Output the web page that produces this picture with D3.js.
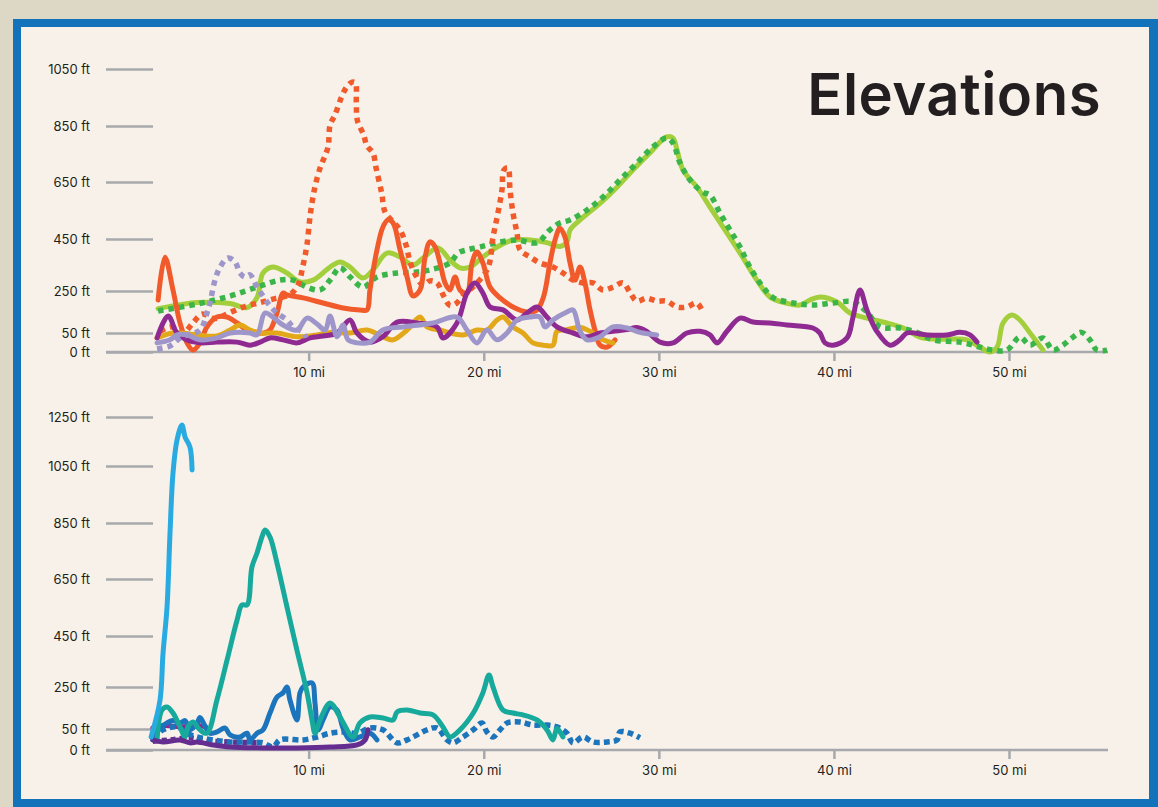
<!DOCTYPE html>
<html><head><meta charset="utf-8">
<script src="https://cdn.jsdelivr.net/npm/d3@7"></script>
<style>
html,body{margin:0;padding:0;background:#DCD8C5;}
svg{display:block;}
</style></head><body><svg id="c" width="1158" height="807"></svg>
<script>
// ---------- DATA (miles, feet) ----------
const xTicks = [10, 20, 30, 40, 50];
const yTicksTop = [0, 50, 250, 450, 650, 850, 1050];
const yTicksBottom = [0, 50, 250, 450, 650, 850, 1050, 1250];
const titleText = "Elevations";

// top panel
const lightGreen = [[1.4,166],[2.65,185],[3.62,195],[5.51,190],[6.48,171],[7.05,219],[7.39,319],[7.96,342],[8.76,319],[9.5,285],[10.25,292],[11.22,342],[11.79,362],[12.36,342],[13.1,300],[13.67,331],[14.47,396],[15.22,381],[15.96,350],[16.53,377],[17.39,415],[18.07,369],[18.64,339],[19.21,342],[19.95,381],[20.76,419],[21.67,446],[22.64,446],[23.61,436],[24.35,421],[24.75,439],[24.93,482],[25.5,517],[26.64,575],[27.61,632],[28.52,693],[29.49,754],[30.45,811],[30.81,807],[31.04,764],[31.38,693],[32.18,632],[32.92,562],[33.67,492],[34.64,396],[35.6,292],[36.34,222],[37.26,193],[38.06,183],[38.63,207],[39.2,222],[40.17,198],[40.92,145],[41.88,121],[43.02,98],[43.96,74],[44.91,39],[45.66,34],[46.8,34],[47.59,32],[48.34,13],[48.91,0],[49.32,13],[49.66,98],[50.17,136],[50.62,112],[51.2,50],[51.94,5]];
const greenDotted = [[1.4,155],[3.62,188],[5.51,226],[7.05,265],[8.36,292],[9.1,292],[9.9,265],[10.65,254],[11.22,292],[11.79,339],[12.36,304],[13.1,265],[13.9,304],[15.05,319],[16.19,323],[16.93,331],[18.07,358],[18.53,396],[19.04,408],[19.78,419],[20.76,436],[21.9,446],[23.04,436],[23.78,482],[24.35,506],[24.93,517],[25.9,552],[26.81,597],[27.78,657],[28.75,718],[29.66,775],[30.45,807],[30.81,789],[31.21,718],[31.78,657],[32.52,614],[32.92,604],[33.49,541],[34.06,482],[34.64,419],[35.2,342],[35.95,265],[36.52,219],[37.66,193],[38.8,183],[39.95,193],[41.09,198],[41.88,150],[42.63,79],[43.77,74],[44.74,53],[45.66,32],[47.2,26],[48.34,13],[49.09,5],[49.88,5],[50.62,39],[51.2,18],[51.94,37],[52.51,5],[53.08,18],[53.65,39],[54.14,53],[54.62,32],[55.03,5],[55.6,5]];
const orangeDotted = [[1.51,58],[2.19,79],[2.82,50],[3.39,98],[3.91,140],[4.65,119],[5.51,148],[6.36,176],[7.22,195],[8.07,214],[8.93,233],[9.39,273],[9.67,346],[9.9,427],[10.1,540],[10.36,633],[10.69,707],[10.93,743],[11.12,779],[11.22,853],[11.5,889],[11.88,952],[12.17,987],[12.48,1004],[12.67,1001],[12.72,930],[12.78,870],[13.14,818],[13.33,779],[13.67,754],[13.85,700],[14.17,611],[14.36,545],[14.82,510],[15.22,482],[15.56,427],[15.79,362],[16.13,308],[16.53,273],[16.93,289],[17.33,281],[17.67,233],[18.07,181],[18.42,190],[18.93,238],[19.5,273],[20.24,339],[20.53,457],[20.81,541],[21.04,622],[21.15,693],[21.38,700],[21.5,622],[21.67,541],[21.9,471],[22.07,408],[22.64,381],[23.21,358],[23.95,342],[24.52,319],[25.1,292],[25.67,281],[26.24,281],[26.81,254],[27.38,265],[27.95,281],[28.35,243],[28.74,202],[29.31,216],[29.88,202],[30.45,202],[31.02,174],[31.6,174],[32.17,193],[32.51,150]];
const orangeSolid = [[1.4,207],[1.79,380],[2.25,254],[2.65,98],[3.05,24],[3.39,5],[3.79,24],[4.19,79],[4.76,126],[5.34,126],[5.91,98],[6.48,64],[7.05,50],[7.45,50],[7.79,64],[8.19,145],[8.53,240],[8.76,231],[9.68,217],[10.82,193],[11.96,169],[12.93,160],[13.33,160],[13.5,254],[13.9,408],[14.24,492],[14.53,517],[14.82,506],[15.22,408],[15.62,304],[15.96,227],[16.36,254],[16.65,381],[16.93,439],[17.22,420],[17.5,358],[17.79,281],[18.07,254],[18.36,304],[18.64,254],[19.04,240],[19.33,358],[19.61,400],[19.95,358],[20.36,265],[20.93,217],[21.67,174],[22.47,150],[23.04,160],[23.41,221],[23.78,358],[24.07,446],[24.35,488],[24.64,457],[24.93,358],[25.21,292],[25.5,342],[25.78,281],[26.07,160],[26.35,64],[26.64,18],[27.04,13],[27.5,32]];
const gold = [[1.34,37],[2.25,50],[3.62,45],[4.76,42],[5.51,64],[6.08,88],[6.65,64],[7.22,50],[8.19,50],[9.33,40],[10.48,45],[11.22,53],[12.36,50],[13.33,64],[14.24,40],[14.82,32],[15.62,64],[16.36,126],[16.76,79],[17.5,64],[18.81,45],[19.61,64],[20.18,64],[20.76,112],[21.1,126],[21.67,79],[22.24,50],[22.81,24],[23.39,18],[23.95,18],[24.18,58],[24.75,66],[25.5,76],[26.07,58],[26.81,32],[27.38,24]];
const purple = [[1.34,37],[1.97,131],[2.48,50],[3.05,32],[3.79,24],[4.76,26],[5.91,26],[6.65,18],[7.22,26],[7.79,37],[8.53,32],[9.33,24],[10.08,37],[10.82,42],[11.62,50],[12.36,112],[12.76,50],[13.5,26],[14.24,40],[15.05,102],[16.19,98],[17.33,79],[17.67,37],[18.47,98],[19.04,240],[19.5,281],[19.95,240],[20.36,174],[21.1,160],[21.9,112],[22.47,145],[23.04,174],[23.61,126],[24.18,79],[25.1,50],[25.9,40],[26.64,50],[27.38,58],[28.18,66],[28.75,76],[29.31,58],[30.07,26],[30.81,24],[31.6,50],[32.35,58],[32.92,45],[33.32,24],[33.89,58],[34.64,121],[35.38,102],[36.34,98],[37.32,88],[38.8,74],[39.2,50],[39.49,24],[39.95,18],[40.75,37],[41.09,126],[41.49,254],[41.88,160],[42.45,58],[43.2,18],[43.77,32],[44.17,50],[45.32,45],[46.46,45],[47.2,53],[47.77,45],[48.17,26]];
const lavenderDotted = [[1.34,8],[2.08,16],[2.76,40],[3.79,64],[4.19,145],[4.36,193],[4.65,292],[4.94,342],[5.39,377],[5.79,362],[6.08,319],[6.36,304],[6.65,312],[7.05,265],[7.39,226],[7.79,179],[8.19,145],[8.76,112],[9.1,79],[9.68,53],[9.85,37]];
const lavender = [[1.34,24],[2.08,32],[2.48,45],[3.05,45],[3.79,32],[4.76,37],[5.51,50],[6.65,50],[7.05,45],[7.5,145],[7.96,126],[8.53,88],[9.33,64],[9.9,121],[10.48,93],[10.94,64],[11.22,131],[11.62,40],[11.96,88],[12.25,32],[12.76,24],[13.5,26],[14.24,64],[15.39,79],[17.1,98],[18.47,126],[19.04,64],[19.61,24],[20.18,64],[20.76,32],[21.33,50],[21.9,112],[22.64,126],[23.21,126],[23.5,79],[23.95,112],[24.75,150],[25.1,160],[25.5,58],[25.9,32],[26.64,40],[27.38,79],[28.18,74],[28.92,53],[29.88,45]];

// bottom panel
const lightBlue = [[1.0,31],[1.51,188],[1.68,381],[1.91,552],[2.08,814],[2.25,1025],[2.48,1156],[2.76,1217],[2.94,1168],[3.22,1127],[3.34,1036]];
const teal = [[1.34,24],[1.62,140],[1.91,155],[2.25,126],[2.65,60],[2.94,31],[3.11,60],[3.39,83],[3.79,48],[4.19,40],[4.76,188],[5.34,356],[5.91,506],[6.19,559],[6.48,559],[6.76,693],[7.05,743],[7.33,800],[7.51,825],[7.79,800],[8.19,707],[8.76,552],[9.33,394],[9.9,226],[10.19,93],[10.36,40],[10.65,93],[11.22,174],[11.79,107],[12.53,31],[12.93,79],[13.5,107],[14.24,102],[14.82,93],[15.05,131],[15.62,140],[16.36,126],[17.1,117],[17.67,60],[18.07,31],[18.64,48],[19.4,126],[19.95,222],[20.3,297],[20.53,250],[21.1,140],[21.67,126],[22.24,117],[23.04,93],[23.61,48],[23.95,24],[24.18,52],[24.52,31]];
const blueSolid = [[1.1,24],[1.51,55],[1.91,79],[2.25,90],[2.65,79],[2.94,90],[3.22,48],[3.62,76],[3.79,105],[4.08,64],[4.36,40],[4.76,43],[5.22,55],[5.51,36],[6.08,31],[6.48,40],[6.65,24],[7.05,40],[7.39,48],[7.79,126],[8.19,202],[8.53,222],[8.76,250],[8.93,188],[9.33,93],[9.5,222],[9.68,250],[10.19,266],[10.36,174],[10.54,48],[10.82,93],[11.22,155],[11.62,140],[11.96,55],[12.36,24],[12.93,31],[13.5,40],[13.9,24]];
const blueDotted = [[1.1,29],[1.68,48],[2.48,60],[3.05,40],[3.62,31],[4.54,24],[5.51,19],[6.48,19],[7.39,17],[7.96,7],[8.36,24],[9.68,24],[10.48,31],[11.22,40],[11.96,43],[12.76,40],[13.5,55],[14.24,48],[15.05,17],[15.62,24],[16.19,36],[16.76,48],[17.33,55],[17.9,24],[18.24,17],[18.81,31],[19.4,48],[19.9,79],[20.18,43],[20.53,31],[20.93,48],[21.33,79],[22.07,83],[22.81,69],[23.61,69],[24.18,60],[24.75,40],[25.1,17],[25.67,31],[26.24,19],[27.04,19],[27.61,24],[27.78,43],[28.35,40],[28.92,29]];
const darkPurple = [[1.1,24],[1.68,19],[2.65,24],[3.22,17],[3.62,19],[4.54,12],[5.51,7],[7.39,5],[9.33,5],[11.22,7],[12.76,12],[13.22,24],[13.39,48]];
const purpleDottedLow = [[1.1,21],[2.08,24],[3.22,29],[4.36,21],[5.51,19],[7.05,17]];
const magentaShort = [[1.1,55],[1.79,67],[2.65,60],[3.5,67],[4.08,62]];

// ---------- RENDER ----------
const svg = d3.select("#c");
const W = 1158, H = 807;
svg.append("rect").attr("x",0).attr("y",0).attr("width",W).attr("height",H).attr("fill","#DCD8C5");
svg.append("rect").attr("x",13).attr("y",19).attr("width",W-13).attr("height",H-19).attr("fill","#1273BA");
svg.append("rect").attr("x",21).attr("y",27).attr("width",1128).attr("height",772).attr("fill","#F7F1E9");

const FONT = "Inter, 'Open Sans', 'DejaVu Sans', sans-serif";
const INK = "#231F20";
const GRAY = "#A7A9AC";

const x = d3.scaleLinear().domain([0, 50]).range([133.6, 1009]);
const yTop = d3.scaleLinear().domain(yTicksTop).range([352, 333, 291, 239, 182, 126, 69]);
const yBot = d3.scaleLinear().domain(yTicksBottom).range([750, 729, 687, 636, 579, 523, 466, 417]);

function axes(y, ticks, baseY) {
  const gy = svg.append("g").attr("transform", "translate(153,0)")
    .call(d3.axisLeft(y).tickValues(ticks).tickSize(47).tickPadding(16).tickFormat(d => d + " ft"));
  gy.select(".domain").remove();
  gy.selectAll("line").attr("stroke", GRAY).attr("stroke-width", 2.5);
  gy.selectAll("text").style("font-family", FONT).style("font-size", "13px").attr("fill", INK);

  svg.append("line").attr("x1", 106).attr("x2", 1108).attr("y1", baseY).attr("y2", baseY)
    .attr("stroke", GRAY).attr("stroke-width", 2.5);

  const gx = svg.append("g").attr("transform", `translate(0,${baseY})`)
    .call(d3.axisBottom(x).tickValues(xTicks).tickSize(9).tickPadding(7).tickFormat(d => d + " mi"));
  gx.select(".domain").remove();
  gx.selectAll("line").attr("stroke", GRAY).attr("stroke-width", 2.5);
  gx.selectAll("text").style("font-family", FONT).style("font-size", "13px").attr("fill", INK);
}
axes(yTop, yTicksTop, 352);
axes(yBot, yTicksBottom, 750);

function drawLine(data, y, color, dash) {
  const line = d3.line().x(d => x(d[0])).y(d => y(d[1])).curve(d3.curveCatmullRom.alpha(0.5));
  svg.append("path").datum(data).attr("d", line)
    .attr("fill", "none").attr("stroke", color).attr("stroke-width", dash ? 5.5 : 5)
    .attr("stroke-linejoin", "round").attr("stroke-linecap", dash ? "butt" : "round")
    .attr("stroke-dasharray", dash || null);
}

// top panel series
drawLine(lightGreen, yTop, "#A3CF3C");
drawLine(greenDotted, yTop, "#3AB54A", "5.5,5");
drawLine(orangeDotted, yTop, "#F15A2B", "5.5,5");
drawLine(orangeSolid, yTop, "#F15A2B");
drawLine(gold, yTop, "#E2A819");
drawLine(purple, yTop, "#8E2A91");
drawLine(lavenderDotted, yTop, "#9E96CA", "5.5,5");
drawLine(lavender, yTop, "#9E96CA");

// bottom panel series
drawLine(magentaShort, yBot, "#92278F");
drawLine(purpleDottedLow, yBot, "#662D91", "5,4");
drawLine(blueDotted, yBot, "#1C75BC", "6,4");
drawLine(blueSolid, yBot, "#1C75BC");
drawLine(teal, yBot, "#17A99B");
drawLine(darkPurple, yBot, "#662D91");
drawLine(lightBlue, yBot, "#29ABE2");

// title
svg.append("text").attr("x", 1101).attr("y", 115).attr("text-anchor", "end")
  .style("font-family", FONT).style("font-size", "58px").style("font-weight", 600)
  .style("letter-spacing", "0.5px")
  .attr("fill", INK).text(titleText);
</script></body></html>
